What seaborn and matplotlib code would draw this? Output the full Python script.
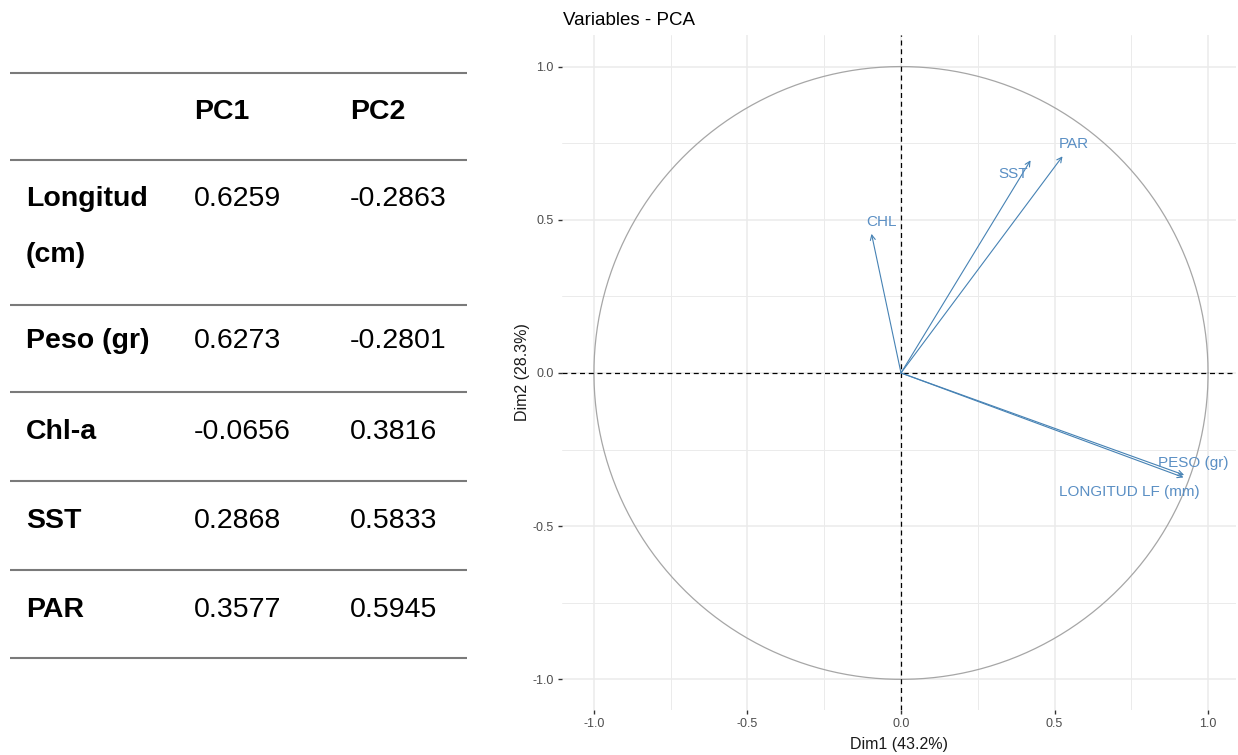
import numpy as np
import matplotlib
matplotlib.use("Agg")
import matplotlib.pyplot as plt
import seaborn as sns

# --- table data (PCA loadings) ---
table_cols = ["PC1", "PC2"]
table_rows = ["Longitud\n(cm)", "Peso (gr)", "Chl-a", "SST", "PAR"]
pc1_vals = ["0.6259", "0.6273", "-0.0656", "0.2868", "0.3577"]
pc2_vals = ["-0.2863", "-0.2801", "0.3816", "0.5833", "0.5945"]

# --- correlation circle data ---
var_names = ["LONGITUD LF (mm)", "PESO (gr)", "CHL", "SST", "PAR"]
dim1 = [0.920, 0.922, -0.096, 0.422, 0.526]
dim2 = [-0.341, -0.333, 0.454, 0.694, 0.707]
dim1_pct = 43.2
dim2_pct = 28.3

# label offsets from arrow tips (layout only)
lab_dx = [-0.177, 0.030, 0.034, -0.056, 0.038]
lab_dy = [-0.046, 0.038, 0.040, -0.045, 0.039]

sns.set_theme(style="white")
plt.rcParams['font.family'] = ['Liberation Sans', 'DejaVu Sans']

W, H = 1238, 755
fig = plt.figure(figsize=(W / 100, H / 100), dpi=100)

# ---------------- table (left) ----------------
tab = fig.add_axes([0, 0, 495 / W, 1])
tab.set_xlim(0, 495)
tab.set_ylim(H, 0)
tab.axis("off")

line_y = [73, 160, 305, 392, 481, 570, 658]
for y in line_y:
    tab.plot([10, 467], [y, y], color="#7a7a7a", lw=1.5, solid_capstyle="butt")

fs = 20.5
col_x = [194, 350]
for cx, c in zip(col_x, table_cols):
    tab.text(cx, 119, c, fontsize=fs, fontweight="bold", va="baseline", ha="left", color="black")

row_base = [206, 348, 439, 528, 617]
for rb, name, v1, v2 in zip(row_base, table_rows, pc1_vals, pc2_vals):
    for k, part in enumerate(name.split("\n")):
        tab.text(26, rb + 56 * k, part, fontsize=fs, fontweight="bold", va="baseline", ha="left", color="black")
    tab.text(col_x[0], rb, v1, fontsize=fs, va="baseline", ha="left", color="black")
    tab.text(col_x[1], rb, v2, fontsize=fs, va="baseline", ha="left", color="black")

# ---------------- PCA variable plot (right) ----------------
ax = fig.add_axes([562 / W, 1 - 710 / H, (1236 - 562) / W, (710 - 35) / H])
ax.set_xlim(-1.104, 1.091)
ax.set_ylim(-1.10, 1.103)

ax.set_xticks([-1, -0.5, 0, 0.5, 1])
ax.set_yticks([-1, -0.5, 0, 0.5, 1])
ax.set_xticks([-0.75, -0.25, 0.25, 0.75], minor=True)
ax.set_yticks([-0.75, -0.25, 0.25, 0.75], minor=True)
ax.set_xticklabels(["-1.0", "-0.5", "0.0", "0.5", "1.0"])
ax.set_yticklabels(["-1.0", "-0.5", "0.0", "0.5", "1.0"])
ax.grid(which="major", color="#ebebeb", lw=1.1)
ax.grid(which="minor", color="#ebebeb", lw=0.7)
ax.set_axisbelow(True)
for s in ax.spines.values():
    s.set_visible(False)
ax.tick_params(which="major", length=3, width=1, color="#333333",
               labelsize=9, labelcolor="#4d4d4d", pad=3, bottom=True, left=True)
ax.tick_params(which="minor", length=0)

# unit circle
theta = np.linspace(0, 2 * np.pi, 400)
sns.lineplot(x=np.cos(theta), y=np.sin(theta), sort=False, estimator=None,
             ax=ax, color="#a6a6a6", lw=0.9)

ax.axhline(0, color="black", ls=(0, (4, 3)), lw=0.9)
ax.axvline(0, color="black", ls=(0, (4, 3)), lw=0.9)

for x, y, name, dx, dy in zip(dim1, dim2, var_names, lab_dx, lab_dy):
    ax.annotate("", xy=(x, y), xytext=(0, 0),
                arrowprops=dict(arrowstyle="->", color="steelblue", lw=0.8,
                                shrinkA=0, shrinkB=0, mutation_scale=9))
    ax.text(x + dx, y + dy, name, color="#5a8fc4", fontsize=11,
            ha="center", va="center")

ax.set_xlabel(f"Dim1 ({dim1_pct}%)", fontsize=11.5, color="#1a1a1a", labelpad=5)
ax.set_ylabel(f"Dim2 ({dim2_pct}%)", fontsize=11.5, color="#1a1a1a", labelpad=2)
fig.text(563 / W, 1 - 25 / H, "Variables - PCA", fontsize=13.5, color="black",
         ha="left", va="baseline")

fig.savefig("out.png", dpi=100)
